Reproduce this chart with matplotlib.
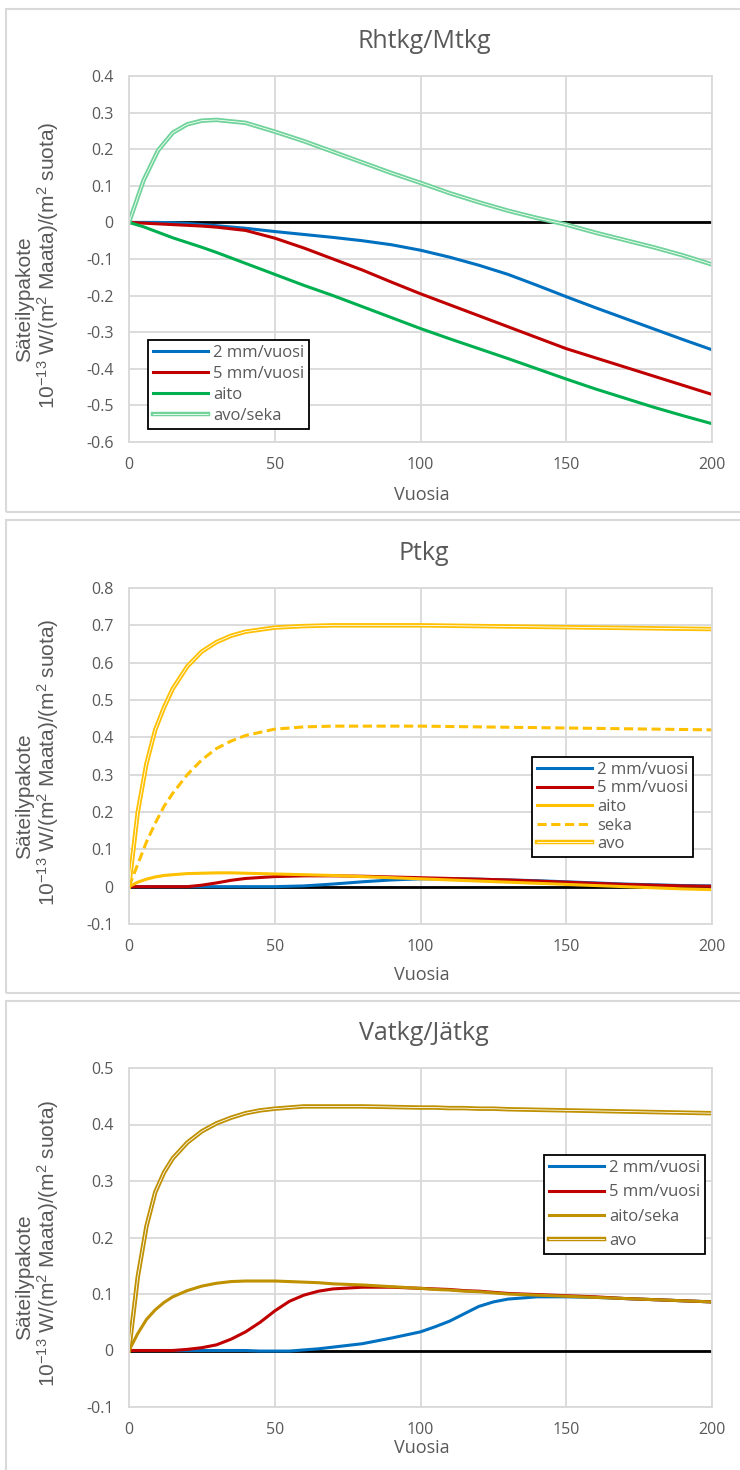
import matplotlib
matplotlib.use('Agg')
import matplotlib.pyplot as plt
import matplotlib.patheffects as pe
from matplotlib.patches import Rectangle
from matplotlib.ticker import FuncFormatter

plt.rcParams['mathtext.fontset'] = 'custom'
plt.rcParams['mathtext.rm'] = 'Liberation Sans'

# --- Rhtkg/Mtkg ---
v1 = [0, 5, 10, 15, 20, 25, 30, 40, 50, 60, 70, 80, 90, 100, 110, 120, 130, 140, 150, 160, 170, 180, 190, 200]
r1_2mm = [0, 0, 0, -0.001, -0.003, -0.006, -0.009, -0.016, -0.025, -0.033, -0.041, -0.05, -0.061, -0.076,
          -0.095, -0.117, -0.142, -0.172, -0.203, -0.233, -0.262, -0.291, -0.32, -0.348]
r1_5mm = [0, -0.002, -0.004, -0.006, -0.008, -0.01, -0.013, -0.022, -0.043, -0.07, -0.1, -0.13, -0.163, -0.195,
          -0.225, -0.255, -0.285, -0.315, -0.345, -0.37, -0.395, -0.42, -0.445, -0.47]
r1_aito = [0, -0.012, -0.027, -0.042, -0.055, -0.068, -0.082, -0.112, -0.142, -0.172, -0.2, -0.23, -0.26, -0.29,
           -0.318, -0.345, -0.372, -0.4, -0.428, -0.455, -0.48, -0.505, -0.528, -0.55]
r1_avoseka = [0, 0.115, 0.197, 0.245, 0.268, 0.278, 0.28, 0.272, 0.248, 0.222, 0.193, 0.164, 0.135, 0.108,
              0.08, 0.055, 0.032, 0.012, -0.006, -0.028, -0.048, -0.068, -0.09, -0.115]

# --- Ptkg ---
v2 = [0, 3, 6, 9, 12, 15, 20, 25, 30, 35, 40, 50, 60, 70, 80, 90, 100, 110, 120, 130, 140, 150, 160, 170, 180, 190, 200]
p_2mm = [0, 0, 0, 0, 0, 0, 0, 0, 0, 0, 0, 0, 0.002, 0.007, 0.013, 0.018, 0.021, 0.021, 0.02, 0.018, 0.016,
         0.013, 0.01, 0.007, 0.005, 0.003, 0.002]
p_5mm = [0, 0, 0, 0, 0, 0, 0, 0.004, 0.01, 0.017, 0.022, 0.027, 0.029, 0.029, 0.028, 0.026, 0.024, 0.022, 0.02,
         0.018, 0.015, 0.012, 0.009, 0.006, 0.004, 0.002, 0.001]
p_aito = [0, 0.012, 0.02, 0.026, 0.03, 0.032, 0.035, 0.036, 0.037, 0.037, 0.036, 0.034, 0.032, 0.03, 0.027,
          0.024, 0.021, 0.018, 0.015, 0.012, 0.009, 0.006, 0.003, 0.0, -0.003, -0.006, -0.008]
p_seka = [0, 0.06, 0.12, 0.17, 0.215, 0.25, 0.3, 0.34, 0.37, 0.39, 0.405, 0.422, 0.428, 0.43, 0.43, 0.43, 0.43,
          0.429, 0.428, 0.427, 0.426, 0.425, 0.424, 0.423, 0.422, 0.421, 0.42]
p_avo = [0, 0.2, 0.33, 0.42, 0.48, 0.53, 0.59, 0.63, 0.655, 0.672, 0.683, 0.694, 0.698, 0.7, 0.7, 0.7, 0.7,
         0.699, 0.698, 0.697, 0.696, 0.695, 0.694, 0.693, 0.692, 0.691, 0.69]

# --- Vatkg/Jätkg ---
v3 = [0, 3, 6, 9, 12, 15, 20, 25, 30, 35, 40, 45, 50, 55, 60, 65, 70, 80, 90, 100, 105, 110, 115, 120, 125,
      130, 140, 150, 160, 170, 180, 190, 200]
va_2mm = [0, 0, 0, 0, 0, 0, 0, 0, 0, 0, 0, -0.001, -0.001, -0.001, 0.001, 0.003, 0.006, 0.012, 0.022, 0.033,
          0.042, 0.052, 0.065, 0.078, 0.086, 0.091, 0.095, 0.095, 0.094, 0.092, 0.09, 0.088, 0.086]
va_5mm = [0, 0, 0, 0, 0, 0, 0.002, 0.005, 0.01, 0.02, 0.033, 0.05, 0.07, 0.087, 0.098, 0.105, 0.109, 0.112,
          0.112, 0.11, 0.109, 0.108, 0.106, 0.105, 0.103, 0.101, 0.099, 0.097, 0.095, 0.092, 0.09, 0.088, 0.086]
va_aitoseka = [0, 0.03, 0.055, 0.072, 0.085, 0.095, 0.106, 0.114, 0.119, 0.122, 0.123, 0.123, 0.123, 0.122,
               0.121, 0.12, 0.118, 0.116, 0.113, 0.11, 0.108, 0.107, 0.105, 0.104, 0.102, 0.1, 0.098, 0.096,
               0.094, 0.092, 0.09, 0.088, 0.086]
va_avo = [0, 0.13, 0.22, 0.28, 0.315, 0.34, 0.368, 0.388, 0.402, 0.412, 0.42, 0.425, 0.428, 0.43, 0.432, 0.432,
          0.432, 0.432, 0.431, 0.43, 0.43, 0.429, 0.429, 0.428, 0.428, 0.427, 0.426, 0.425, 0.424, 0.423, 0.422,
          0.421, 0.42]

titles = ['Rhtkg/Mtkg', 'Ptkg', 'Vatkg/Jätkg']

BLUE, RED, GREEN, LGREEN = '#0070c0', '#c00000', '#00b050', '#6fd39a'
YELLOW, GOLD = '#ffc000', '#bf9000'
TXT = '#595959'
GRID = '#d9d9d9'

W, H = 740, 1470
fig = plt.figure(figsize=(W / 100, H / 100), dpi=100)

# kehykset paneelien ympärille
for top, bot in [(9, 512), (520, 993), (1001, 1480)]:
    fig.patches.append(Rectangle((6 / W, 1 - bot / H), (745 - 6) / W, (bot - top) / H,
                                 transform=fig.transFigure, fill=False, edgecolor=GRID, lw=1.5))


def make_ax(top, bot, ymin, ymax):
    ax = fig.add_axes([129 / W, 1 - bot / H, (712 - 129) / W, (bot - top) / H])
    ax.set_xlim(0, 200)
    ax.set_ylim(ymin, ymax)
    ax.set_xticks(range(0, 201, 50))
    ax.set_yticks([round(ymin + 0.1 * i, 1) for i in range(int(round((ymax - ymin) * 10)) + 1)])
    ax.yaxis.set_major_formatter(FuncFormatter(lambda v, p: '%g' % round(v, 1)))
    ax.grid(True, color=GRID, lw=1.3)
    ax.set_axisbelow(True)
    for s in ax.spines.values():
        s.set_color(GRID)
        s.set_linewidth(1.3)
    ax.tick_params(length=0, pad=11, labelcolor=TXT, labelsize=11.5)
    for lab in ax.get_xticklabels() + ax.get_yticklabels():
        lab.set_family('Open Sans')
    ax.axhline(0, color='black', lw=2, zorder=1.5)
    return ax


def double(color):
    return dict(color='white', lw=0.6, path_effects=[pe.Stroke(linewidth=3.2, foreground=color), pe.Normal()])


def add_legend(ax, left, top, spacing):
    ax.legend(loc='upper left', bbox_to_anchor=(left / W, 1 - top / H), bbox_transform=fig.transFigure,
              borderaxespad=0, fancybox=False, edgecolor='black', framealpha=1, handlelength=3.3,
              labelspacing=spacing, borderpad=0.3, handletextpad=0.3,
              prop={'family': 'Open Sans', 'size': 12}, labelcolor=TXT).get_frame().set_linewidth(1.3)


ylab1 = 'Säteilypakote'
ylab2 = r'$\mathregular{10^{-13}}$ W/(m$\mathregular{^{2}}$ Maata)/(m$\mathregular{^{2}}$ suota)'


def labels(top, bot, ttl, vuosia_y):
    mid = (top + bot) / 2
    fig.text(424 / W, 1 - (top - 35) / H, ttl, ha='center', va='center', color=TXT, fontsize=18,
             family='Open Sans')
    fig.text(25 / W, 1 - (mid + 40) / H, ylab1, rotation=90, ha='center', va='center', color=TXT,
             fontsize=15, family='Liberation Sans')
    fig.text(48 / W, 1 - (mid + 6) / H, ylab2, rotation=90, ha='center', va='center', color=TXT,
             fontsize=15, family='Liberation Sans')
    fig.text(422 / W, 1 - vuosia_y / H, 'Vuosia', ha='center', va='center', color=TXT, fontsize=13,
             family='Open Sans')


# paneeli 1
ax1 = make_ax(76, 442, -0.6, 0.4)
ax1.plot(v1, r1_2mm, color=BLUE, lw=2.2, label='2 mm/vuosi')
ax1.plot(v1, r1_5mm, color=RED, lw=2.2, label='5 mm/vuosi')
ax1.plot(v1, r1_aito, color=GREEN, lw=2.2, label='aito')
ax1.plot(v1, r1_avoseka, label='avo/seka', **double(LGREEN))
add_legend(ax1, 148, 340, 0.3)
labels(76, 442, titles[0], 495)

# paneeli 2
ax2 = make_ax(588, 924, -0.1, 0.8)
ax2.plot(v2, p_2mm, color=BLUE, lw=2.2, label='2 mm/vuosi')
ax2.plot(v2, p_5mm, color=RED, lw=2.2, label='5 mm/vuosi')
ax2.plot(v2, p_aito, color=YELLOW, lw=2.2, label='aito')
ax2.plot(v2, p_seka, color=YELLOW, lw=2.2, ls=(0, (3, 1.5)), label='seka')
ax2.plot(v2, p_avo, label='avo', **double(YELLOW))
add_legend(ax2, 532, 757, 0.15)
labels(588, 924, titles[1], 975)

# paneeli 3
ax3 = make_ax(1068, 1407, -0.1, 0.5)
ax3.plot(v3, va_2mm, color=BLUE, lw=2.2, label='2 mm/vuosi')
ax3.plot(v3, va_5mm, color=RED, lw=2.2, label='5 mm/vuosi')
ax3.plot(v3, va_aitoseka, color=GOLD, lw=2.2, label='aito/seka')
ax3.plot(v3, va_avo, label='avo', **double(GOLD))
add_legend(ax3, 544, 1155, 0.5)
labels(1068, 1407, titles[2], 1448)

fig.savefig('out.png', dpi=100)
